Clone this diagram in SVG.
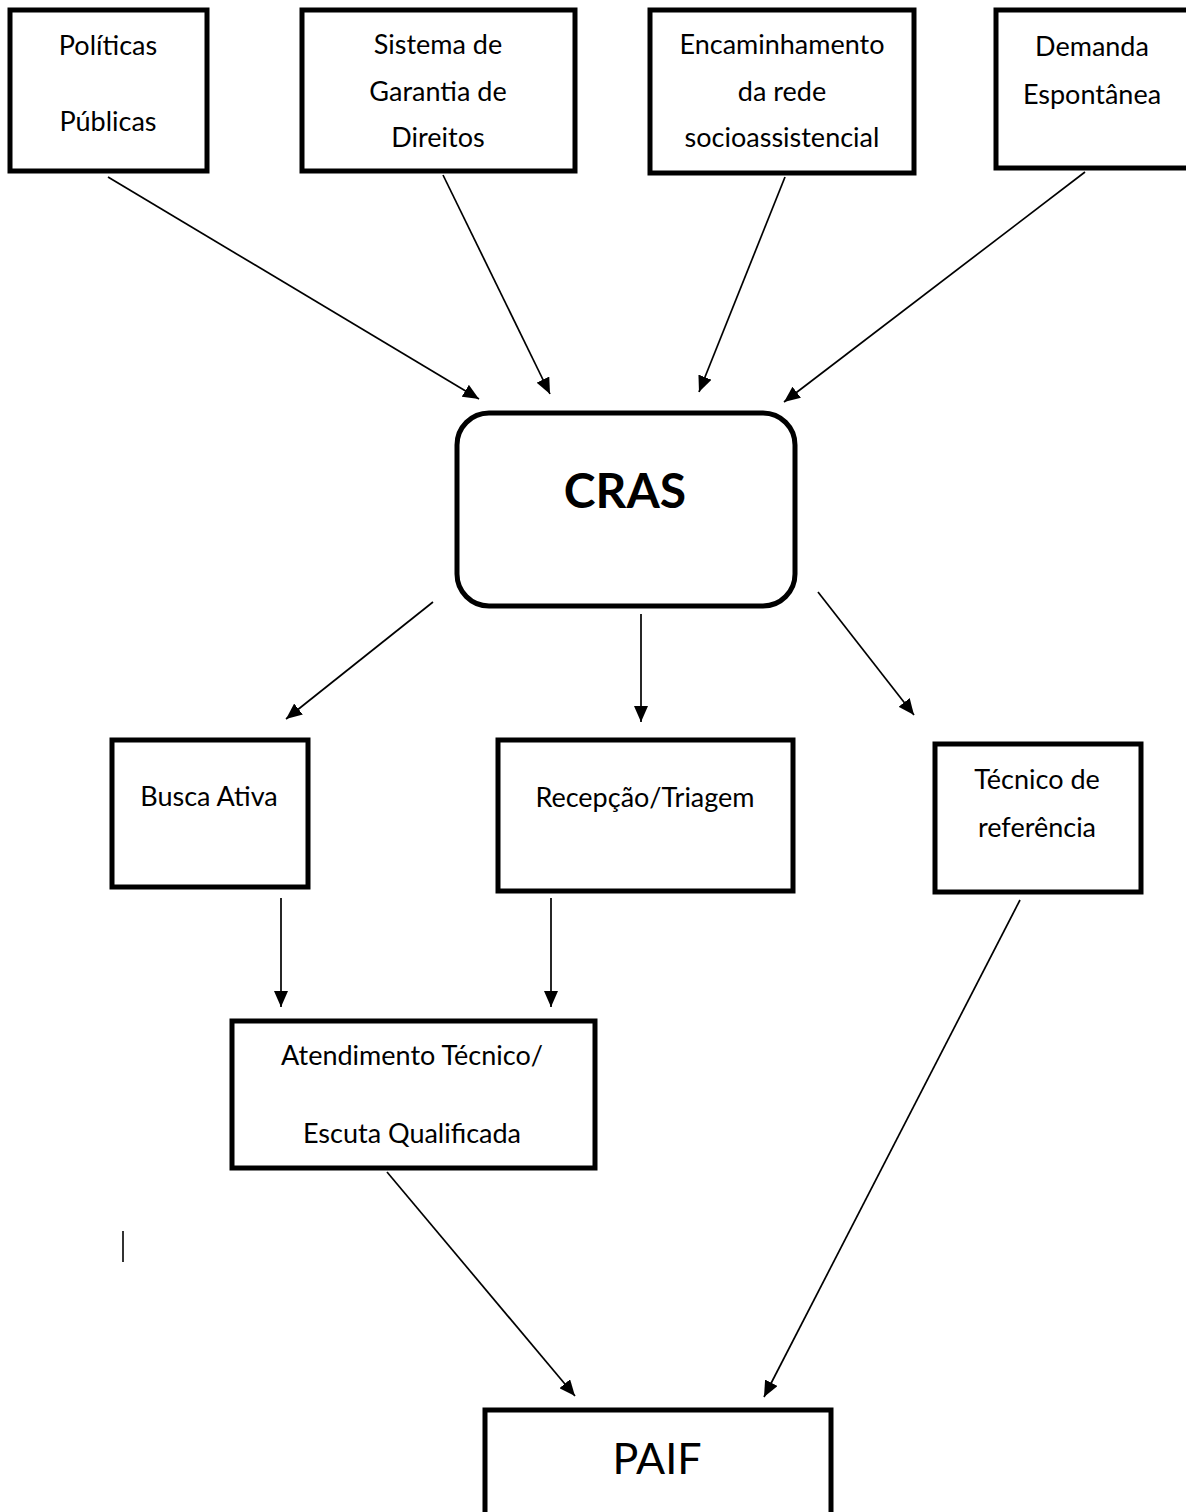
<svg xmlns="http://www.w3.org/2000/svg" width="1186" height="1512" viewBox="0 0 1186 1512">
<style>
.box{fill:#fff;stroke:#000;stroke-width:5}
.t{font-family:Lato,"Open Sans",sans-serif;font-size:27px;fill:#000;text-anchor:middle}
.c{stroke:#000;stroke-width:1.7;fill:none;marker-end:url(#ah)}
</style>
<defs>
<marker id="ah" viewBox="0 0 16 14" refX="16" refY="7" markerWidth="16" markerHeight="14" markerUnits="userSpaceOnUse" orient="auto">
<path d="M0,0 L16,7 L0,14 z" fill="#000"/>
</marker>
</defs>
<rect width="1186" height="1512" fill="#fff"/>
<g id="connectors">
<path d="M108,177 L479,399" class="c"/>
<path d="M443,175 L550,394" class="c"/>
<path d="M785,177 L699,392" class="c"/>
<path d="M1085,172 L784,402" class="c"/>
<path d="M433,602 L286,719" class="c"/>
<path d="M641,614 L641,722" class="c"/>
<path d="M818,592 L914,715" class="c"/>
<path d="M281,898 L281,1007" class="c"/>
<path d="M551,898 L551,1007" class="c"/>
<path d="M387,1172 L575,1396" class="c"/>
<path d="M1020,900 L764,1397" class="c"/>
</g>
<g id="politicas">
<rect class="box" x="10" y="10" width="197" height="161"/>
<text class="t" x="108" y="55">Políticas</text>
<text class="t" x="108" y="131">Públicas</text>
</g>
<g id="sistema">
<rect class="box" x="302" y="10" width="273" height="161"/>
<text class="t" x="438" y="54">Sistema de</text>
<text class="t" x="438" y="101">Garantia de</text>
<text class="t" x="438" y="147">Direitos</text>
</g>
<g id="encaminhamento">
<rect class="box" x="650" y="10" width="264" height="163"/>
<text class="t" x="782" y="54">Encaminhamento</text>
<text class="t" x="782" y="101">da rede</text>
<text class="t" x="782" y="147">socioassistencial</text>
</g>
<g id="demanda">
<rect class="box" x="996" y="10" width="200" height="158"/>
<text class="t" x="1092" y="56">Demanda</text>
<text class="t" x="1092" y="104">Espontânea</text>
</g>
<g id="cras">
<rect class="box" x="457" y="413" width="338" height="193" rx="32"/>
<text class="t" x="625" y="508" style="font-size:48px;font-weight:bold">CRAS</text>
</g>
<g id="busca">
<rect class="box" x="112" y="740" width="196" height="147"/>
<text class="t" x="209" y="806">Busca Ativa</text>
</g>
<g id="recepcao">
<rect class="box" x="498" y="740" width="295" height="151"/>
<text class="t" x="645" y="807">Recepção/Triagem</text>
</g>
<g id="tecnico">
<rect class="box" x="935" y="744" width="206" height="148"/>
<text class="t" x="1037" y="789">Técnico de</text>
<text class="t" x="1037" y="837">referência</text>
</g>
<g id="atendimento">
<rect class="box" x="232" y="1021" width="363" height="147"/>
<text class="t" x="412" y="1065">Atendimento Técnico/</text>
<text class="t" x="412" y="1143">Escuta Qualificada</text>
</g>
<g id="paif">
<rect class="box" x="485" y="1410" width="346" height="120"/>
<text class="t" x="657" y="1474" style="font-size:43px">PAIF</text>
</g>
<line x1="123" y1="1231" x2="123" y2="1262" stroke="#333" stroke-width="2"/>
</svg>
